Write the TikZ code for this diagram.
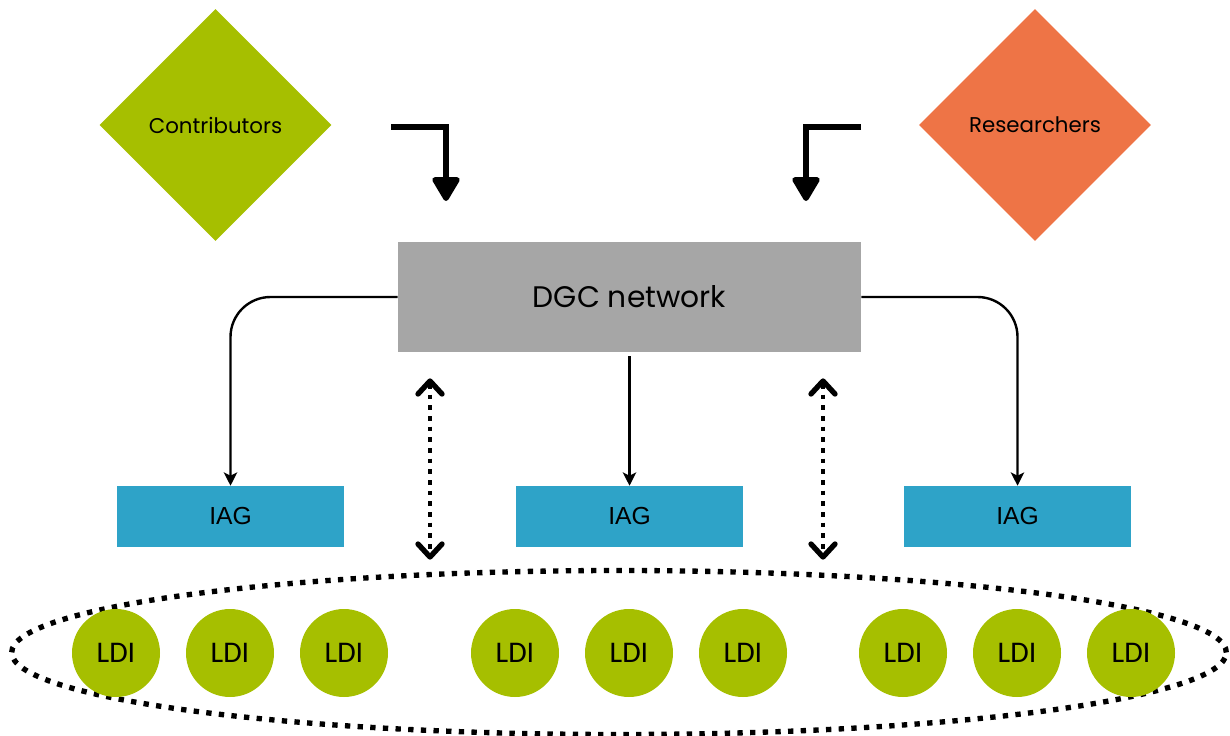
\documentclass[tikz,border=0pt]{standalone}
\usepackage{fontspec}
\setmainfont{Poppins}
\newfontfamily\ldifont{Carlito}
\newfontfamily\iagfont{Liberation Sans}
\usetikzlibrary{shapes.geometric,arrows.meta}
\definecolor{cgreen}{HTML}{A6BF00}
\definecolor{corange}{HTML}{EE7446}
\definecolor{cgray}{HTML}{A6A6A6}
\definecolor{cblue}{HTML}{2EA3C8}
\tikzset{
  dia/.style={diamond,aspect=1,minimum width=174pt,minimum height=174pt,inner sep=0pt,font=\fontsize{16}{18}\selectfont},
  dgcbox/.style={rectangle,fill=cgray,minimum width=347.25pt,minimum height=82.5pt,inner sep=0pt,font=\fontsize{22.3}{24}\selectfont},
  iagbox/.style={rectangle,fill=cblue,minimum width=170.25pt,minimum height=45.75pt,inner sep=0pt,font=\iagfont\fontsize{18.5}{20}\selectfont},
  ldi/.style={circle,fill=cgreen,minimum size=66pt,inner sep=0pt,font=\ldifont\fontsize{22.5}{24}\selectfont},
  bigarrow/.style={line width=4pt,-{Triangle[length=20pt,width=22.5pt,round]}},
  thinarrow/.style={line width=1.8pt,rounded corners=30pt,-{Stealth[length=10pt,width=10pt,inset=2.5pt]}},
  dots/.style={line width=3.5pt,dash pattern=on 3.5pt off 4.5pt},
  chev/.style={line width=4pt,line cap=round,line join=round},
}
\begin{document}
\begin{tikzpicture}[x=0.75pt,y=-0.75pt]
\useasboundingbox (0,0) rectangle (1230,735);
\node[dia,fill=cgreen] (contrib) at (215.5,125) {Contributors};
\node[dia,fill=corange] (research) at (1035,125) {Researchers};
\node[dgcbox] (dgc) at (629.5,297) {DGC network};
\node[iagbox] (iag1) at (230.5,516.5) {IAG};
\node[iagbox] (iag2) at (629.5,516.5) {IAG};
\node[iagbox] (iag3) at (1017.5,516.5) {IAG};
\node[ellipse,draw,line width=4pt,dash pattern=on 4pt off 5.5pt,minimum width=911pt,minimum height=123pt,inner sep=0pt] (group) at (619,652.5) {};
\foreach \n/\x in {1/116,2/230,3/344,4/515,5/629,6/743,7/903,8/1017,9/1131}
  \node[ldi] (ldi\n) at (\x,653) {LDI};
% top bent arrows
\coordinate (la) at (391,127);
\coordinate (lb) at (446,127);
\coordinate (lc) at (446,201);
\draw[bigarrow] (la) -- (lb) -- (lc);
\coordinate (ra) at (861,127);
\coordinate (rb) at (806,127);
\coordinate (rc) at (806,201);
\draw[bigarrow] (ra) -- (rb) -- (rc);
% connectors to IAG
\draw[thinarrow] (dgc.west) -| (iag1.north);
\draw[thinarrow,shorten <=3pt] (dgc.south) -- (iag2.north);
\draw[thinarrow] (dgc.east) -| (iag3.north);
% dotted double arrows
\foreach \k/\x in {1/430,2/823}{
  \coordinate (d\k t) at (\x,384);
  \coordinate (d\k b) at (\x,554);
  \draw[dots] (d\k t) -- (d\k b);
  \draw[chev] ({\x-12},394) -- (\x,381) -- ({\x+12},394);
  \draw[chev] ({\x-12},544) -- (\x,557) -- ({\x+12},544);
}
\end{tikzpicture}
\end{document}
